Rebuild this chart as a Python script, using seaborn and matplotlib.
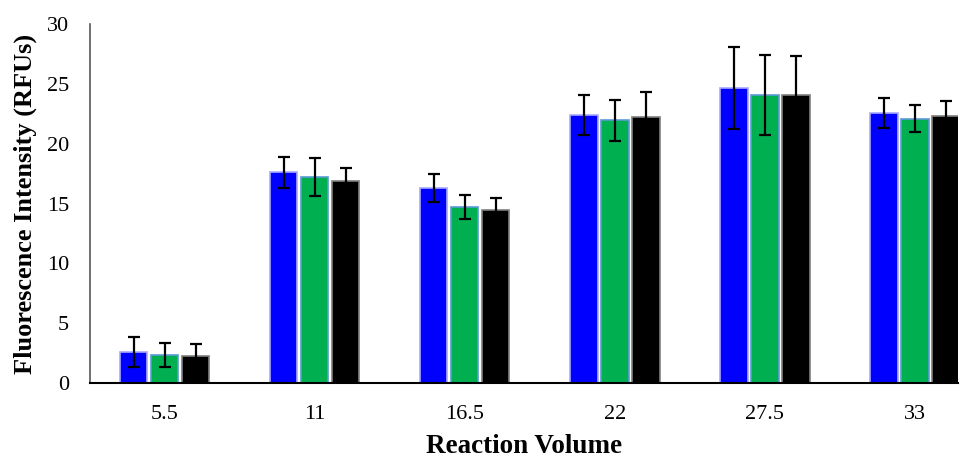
import matplotlib
matplotlib.use("Agg")
import matplotlib.pyplot as plt
import seaborn as sns
import pandas as pd
import numpy as np

volumes = ["5.5", "11", "16.5", "22", "27.5", "33"]
series = ["A", "B", "C"]
blue_vals = [2.6, 17.6, 16.3, 22.4, 24.65, 22.55]
green_vals = [2.35, 17.2, 14.7, 21.95, 24.1, 22.1]
black_vals = [2.25, 16.9, 14.45, 22.2, 24.05, 22.3]
blue_err = [1.25, 1.3, 1.2, 1.65, 3.4, 1.25]
green_err = [1.0, 1.6, 1.0, 1.7, 3.35, 1.1]
black_err = [1.05, 1.1, 1.05, 2.1, 3.3, 1.25]

colors = ["#0000FF", "#00B050", "#000000"]
edges = ["#A9A9FF", "#5B9BD5", "#7F7F7F"]

vals = [blue_vals, green_vals, black_vals]
errs = [blue_err, green_err, black_err]
df = pd.DataFrame({
    "Reaction Volume": volumes * 3,
    "Series": [s for s in series for _ in volumes],
    "Value": blue_vals + green_vals + black_vals,
})

sns.set_style("white")
plt.rcParams["font.family"] = ["Liberation Serif", "DejaVu Serif"]
plt.rcParams["text.color"] = "black"
plt.rcParams["axes.labelcolor"] = "black"

fig, ax = plt.subplots(figsize=(9.76, 4.62), dpi=100)
fig.subplots_adjust(left=0.092, right=0.982, bottom=0.171, top=0.948)

sns.barplot(data=df, x="Reaction Volume", y="Value", hue="Series",
            order=volumes, hue_order=series, palette=colors,
            errorbar=None, width=0.62, gap=0.12, legend=False, ax=ax,
            linewidth=1.2, saturation=1)

# edge colors and error bars per series
containers = list(ax.containers)
for ci, cont in enumerate(containers):
    xs = []
    for p in cont.patches:
        p.set_edgecolor(edges[ci])
        p.set_linewidth(1.2)
        xs.append(p.get_x() + p.get_width() / 2)
    ax.errorbar(xs, vals[ci], yerr=errs[ci], fmt="none", ecolor="black",
                elinewidth=1.6, capsize=4, capthick=1.6, zorder=5)

ax.set_ylim(0, 30)
ax.set_yticks([0, 5, 10, 15, 20, 25, 30])
ax.set_xlim(-0.5, 5.29)
ax.tick_params(axis="both", length=0, labelsize=16, colors="black", labelcolor="black")
ax.tick_params(axis="y", pad=15)
ax.tick_params(axis="x", pad=16)
ax.set_xlabel("Reaction Volume", fontsize=19.5, fontweight="bold", labelpad=7, color="black")
ax.set_ylabel("Fluorescence Intensity (RFUs)", fontsize=19, fontweight="bold", labelpad=7, color="black")

for s in ["top", "right"]:
    ax.spines[s].set_visible(False)
ax.spines["left"].set_color("#595959")
ax.spines["left"].set_linewidth(1.2)
ax.spines["bottom"].set_color("black")
ax.spines["bottom"].set_linewidth(1.5)

fig.savefig("out.png", dpi=100)
